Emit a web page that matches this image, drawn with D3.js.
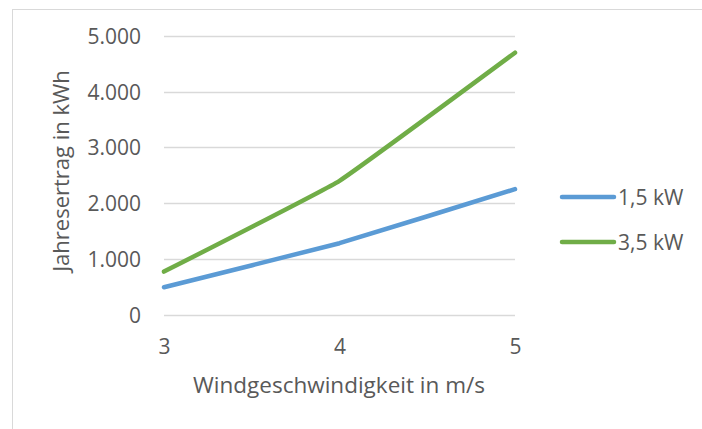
<!DOCTYPE html>
<html>
<head>
<meta charset="utf-8">
<script src="https://cdn.jsdelivr.net/npm/d3@7"></script>
<style>
  html, body { margin: 0; padding: 0; background: #fff; }
  svg { display: block; }
  text { font-family: "Open Sans", "Noto Sans", sans-serif; fill: #595959; }
</style>
</head>
<body>
<svg id="chart" width="702" height="429"></svg>
<script>
// Wind speed categories (m/s)
const windSpeeds = ["3", "4", "5"];
// Annual yield in kWh per turbine size
const yield15kW = [490, 1280, 2250];
const yield35kW = [770, 2400, 4700];
const seriesNames = ["1,5 kW", "3,5 kW"];
const seriesColors = ["#5b9bd5", "#70ad47"];
const yTicks = [0, 1000, 2000, 3000, 4000, 5000];

const series = [
  { name: seriesNames[0], color: seriesColors[0], values: yield15kW },
  { name: seriesNames[1], color: seriesColors[1], values: yield35kW }
];

const svg = d3.select("#chart");

// Chart area frame
svg.append("rect")
  .attr("x", 12.5).attr("y", 9.5)
  .attr("width", 702).attr("height", 430)
  .attr("fill", "#fff").attr("stroke", "#d9d9d9").attr("stroke-width", 1);

const plot = { left: 164, right: 515, top: 36, bottom: 314.5 };

const x = d3.scalePoint().domain(windSpeeds).range([plot.left, plot.right]);
const y = d3.scaleLinear().domain([0, 5000]).range([plot.bottom, plot.top]);

const fmt = d3.formatLocale({ decimal: ",", thousands: ".", grouping: [3], currency: ["", " €"] }).format(",.0f");

// Horizontal gridlines
svg.append("g").selectAll("line").data(yTicks).join("line")
  .attr("x1", plot.left).attr("x2", plot.right)
  .attr("y1", d => Math.round(y(d)) + 0.5).attr("y2", d => Math.round(y(d)) + 0.5)
  .attr("stroke", "#d9d9d9").attr("stroke-width", 1.5);

// Y tick labels
const yAxis = d3.axisLeft(y).tickValues(yTicks).tickFormat(fmt).tickSize(0).tickPadding(0);
const gy = svg.append("g").attr("transform", `translate(${plot.left - 23},0)`).call(yAxis);
gy.select(".domain").remove();
gy.selectAll("text").attr("font-family", null).style("font-size", "21px").attr("fill", "#595959").attr("dy", "0.36em");

// X tick labels
const xAxis = d3.axisBottom(x).tickSize(0).tickPadding(0);
const gx = svg.append("g").attr("transform", `translate(0,${plot.bottom + 39})`).call(xAxis);
gx.select(".domain").remove();
gx.selectAll("text").attr("font-family", null).style("font-size", "21px").attr("fill", "#595959").attr("dy", "0");

// Lightly smoothed series lines
const line = d3.line()
  .x((d, i) => x(windSpeeds[i]))
  .y(d => y(d))
  .curve(d3.curveCardinal.tension(0.75));

svg.append("g").selectAll("path").data(series).join("path")
  .attr("d", d => line(d.values))
  .attr("fill", "none")
  .attr("stroke", d => d.color)
  .attr("stroke-width", 4.5)
  .attr("stroke-linecap", "round")
  .attr("stroke-linejoin", "round");

// Axis titles
svg.append("text")
  .attr("x", 339).attr("y", 393)
  .attr("text-anchor", "middle")
  .style("font-size", "22.5px")
  .text("Windgeschwindigkeit in m/s");

svg.append("text")
  .attr("transform", "translate(69,171) rotate(-90)")
  .attr("text-anchor", "middle")
  .style("font-size", "22px")
  .text("Jahresertrag in kWh");

// Legend
const legend = svg.append("g").selectAll("g").data(series).join("g")
  .attr("transform", (d, i) => `translate(562,${197 + i * 45})`);
legend.append("line")
  .attr("x1", 0).attr("x2", 52)
  .attr("stroke", d => d.color).attr("stroke-width", 4.5).attr("stroke-linecap", "round");
legend.append("text")
  .attr("x", 56).attr("dy", "0.36em")
  .style("font-size", "21px")
  .text(d => d.name);
</script>
</body>
</html>
